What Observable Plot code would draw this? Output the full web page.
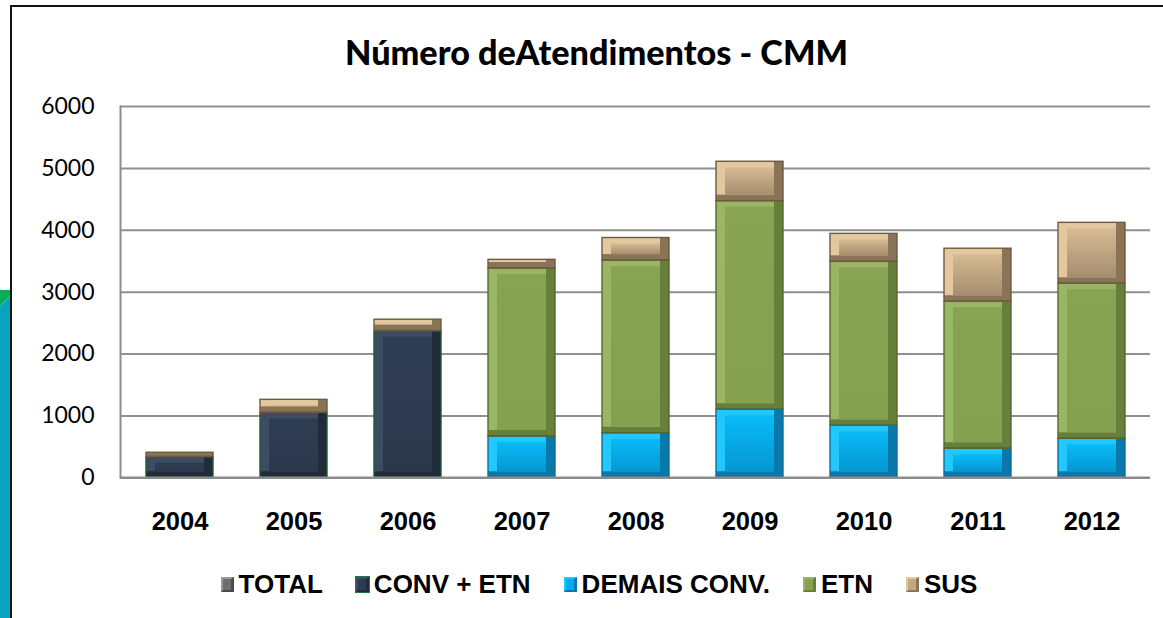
<!DOCTYPE html>
<html>
<head>
<meta charset="utf-8">
<script src="https://cdn.jsdelivr.net/npm/d3@7"></script>
<script src="https://cdn.jsdelivr.net/npm/@observablehq/plot@0.6"></script>
<style>
  body { margin: 0; background: #fff; }
  #wrap { position: relative; width: 1163px; height: 618px; overflow: hidden; background: #fff; }
  #chart { position: absolute; left: 0; top: 0; }
  #teal { position: absolute; left: 0; top: 290px; width: 11px; height: 328px; background: #06a4bf;
          clip-path: polygon(0 16px, 11px 5px, 11px 100%, 0 100%); z-index: 3; }
  #green { position: absolute; left: 0; top: 290px; width: 11px; height: 20px; background: #08ae56;
          clip-path: polygon(0 0, 11px 0, 11px 5px, 0 16px); z-index: 3; }
  #frameTop { position: absolute; left: 10px; top: 5px; width: 1160px; height: 2px; background: #111; z-index: 3; }
  #frameLeft { position: absolute; left: 10px; top: 5px; width: 2px; height: 620px; background: #111; z-index: 3; }
  #title { position: absolute; left: 30px; width: 1133px; top: 30px; height: 44px; line-height: 44px;
           text-align: center; font-family: Lato, "Open Sans", sans-serif; font-weight: 900; color: #000; z-index: 2; }
  #legend { position: absolute; left: 0; width: 1198px; top: 568px; height: 32px; display: flex;
            justify-content: center; align-items: center; gap: 33px; z-index: 2;
            font-family: "Liberation Sans", Arial, sans-serif; font-weight: 700; font-size: 26px; color: #000; }
  .item { display: flex; align-items: center; gap: 5px; white-space: nowrap; }
  .sw { width: 13px; height: 15px; box-sizing: border-box; border-style: solid; border-width: 2px 3px 2px 2px; }
</style>
</head>
<body>
<div id="wrap">
  <div id="chart"></div>
  <div id="teal"></div>
  <div id="green"></div>
  <div id="frameTop"></div>
  <div id="frameLeft"></div>
  <div id="title">Número deAtendimentos - CMM</div>
  <div id="legend"></div>
</div>
<script>
// ---- data ----
const years = ["2004", "2005", "2006", "2007", "2008", "2009", "2010", "2011", "2012"];
const convEtn    = [335, 1050, 2370, 0, 0, 0, 0, 0, 0];
const demaisConv = [0, 0, 0, 667, 720, 1100, 840, 470, 630];
const etn        = [0, 0, 0, 2715, 2790, 3370, 2650, 2375, 2505];
const sus        = [70, 210, 185, 140, 365, 637, 452, 857, 985];
const seriesNames = ["CONV + ETN", "DEMAIS CONV.", "ETN", "SUS"];
const legendNames = ["TOTAL", "CONV + ETN", "DEMAIS CONV.", "ETN", "SUS"];
const yTicks = [0, 1000, 2000, 3000, 4000, 5000, 6000];
const titleText = "Número deAtendimentos - CMM";

// ---- styles ----
const sty = {
  "TOTAL":        {dark: "#4a4a4a", light: "#9a9a9a", face: "#6e6e6e", solid: "#6e6e6e", stroke: "#3a3a3a"},
  "CONV + ETN":   {dark: "#212c3b", light: "#3d4c63", face: "url(#gNavy)", solid: "#2d3a4f", stroke: "#1d5a34"},
  "DEMAIS CONV.": {dark: "#0a78aa", light: "#22c8fb", face: "url(#gBlue)", solid: "#07aaea", stroke: "#0a6d9c"},
  "ETN":          {dark: "#667f3b", light: "#99b665", face: "url(#gGreen)", solid: "#86a251", stroke: "#56682e"},
  "SUS":          {dark: "#8a7457", light: "#e3c89f", face: "url(#gTan)", solid: "#c3a781", stroke: "#6e5b40"}
};

const arrays = [convEtn, demaisConv, etn, sus];
const long = [];
years.forEach((yr, i) => {
  arrays.forEach((arr, k) => {
    if (arr[i] > 0) long.push({year: yr, series: seriesNames[k], value: arr[i]});
  });
});

const base = {x: "year", y: "value"};
const chart = Plot.plot({
  width: 1163,
  height: 618,
  marginLeft: 120,
  marginRight: 13,
  marginTop: 106,
  marginBottom: 140.7,
  style: {background: "transparent", overflow: "visible"},
  x: {domain: years, paddingInner: 0.414, paddingOuter: 0.207, label: null},
  y: {domain: [0, 6000], label: null},
  color: {type: "identity"},
  marks: [
    Plot.gridY(yTicks.filter(t => t > 0), {stroke: "#909090", strokeOpacity: 1, strokeWidth: 2}),
    Plot.frame({anchor: "left", stroke: "#8c8c8c", strokeWidth: 2}),
    Plot.barY(long, {...base, fill: d => sty[d.series].dark}),
    Plot.barY(long, {...base, fill: d => sty[d.series].light, insetRight: 9, insetBottom: 6}),
    Plot.barY(long, {...base, fill: d => sty[d.series].face, insetLeft: 9, insetRight: 9, insetTop: 6, insetBottom: 6}),
    Plot.barY(long, {...base, fill: "none", stroke: d => sty[d.series].stroke, strokeWidth: 1.4}),
    Plot.ruleY([0], {stroke: "#8c8c8c", strokeWidth: 2.5}),
    Plot.axisY(yTicks, {tickSize: 0, tickPadding: 26, tickFormat: d => String(d), fontSize: 23,
      fontFamily: "Lato, 'Open Sans', sans-serif", fill: "#000"}),
    Plot.axisX({tickSize: 0, tickPadding: 34, fontSize: 25.5, fontWeight: "bold",
      fontFamily: "'Liberation Sans', Arial, sans-serif", fill: "#000"})
  ]
});

d3.select(chart).insert("defs", ":first-child").html(`
  <linearGradient id="gNavy" x1="0" y1="0" x2="0" y2="1">
    <stop offset="0" stop-color="#2f3d53"/><stop offset="1" stop-color="#2b384c"/>
  </linearGradient>
  <linearGradient id="gBlue" x1="0" y1="0" x2="0" y2="1">
    <stop offset="0" stop-color="#08bbf7"/><stop offset="1" stop-color="#0597d2"/>
  </linearGradient>
  <linearGradient id="gGreen" x1="0" y1="0" x2="0" y2="1">
    <stop offset="0" stop-color="#87a353"/><stop offset="1" stop-color="#85a14f"/>
  </linearGradient>
  <linearGradient id="gTan" x1="0" y1="0" x2="0" y2="1">
    <stop offset="0" stop-color="#d6bb93"/><stop offset="1" stop-color="#a58d6e"/>
  </linearGradient>`);
document.getElementById("chart").appendChild(chart);

// title: fit to reference width
const titleEl = document.getElementById("title");
const ctx = document.createElement("canvas").getContext("2d");
ctx.font = "900 30px Lato";
const w = ctx.measureText(titleText).width;
titleEl.style.fontSize = (30 * 503 / w).toFixed(1) + "px";
titleEl.textContent = titleText;

// legend
const leg = document.getElementById("legend");
legendNames.forEach(name => {
  const s = sty[name];
  const item = document.createElement("div");
  item.className = "item";
  const sw = document.createElement("div");
  sw.className = "sw";
  sw.style.background = s.solid;
  sw.style.borderColor = `${s.light} ${s.dark} ${s.dark} ${s.light}`;
  if (name === "CONV + ETN") sw.style.outline = "1px solid #1d7a3c";
  const t = document.createElement("span");
  t.textContent = name;
  item.appendChild(sw);
  item.appendChild(t);
  leg.appendChild(item);
});
</script>
</body>
</html>
